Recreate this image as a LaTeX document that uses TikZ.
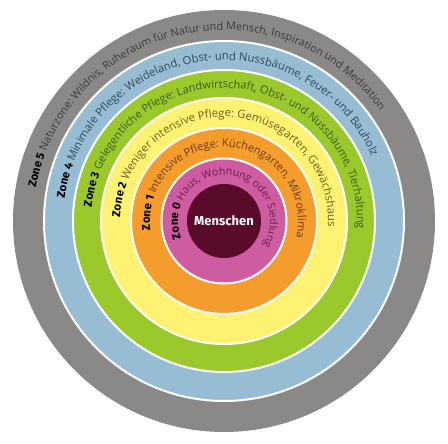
\documentclass[tikz,border=0pt]{standalone}
\usepackage{fontspec}
\setmainfont{Open Sans}
\setsansfont{Fira Sans}
\usepackage{tikz}
\usetikzlibrary{decorations.text}
\usepackage{xcolor}

\definecolor{ringfive}{HTML}{8A8987}
\definecolor{ringfour}{HTML}{96BDD3}
\definecolor{ringthree}{HTML}{9BC92C}
\definecolor{ringtwo}{HTML}{FEF272}
\definecolor{ringone}{HTML}{F49C2C}
\definecolor{ringzero}{HTML}{CD5CA0}
\definecolor{core}{HTML}{5A0A2A}
\definecolor{txtfive}{HTML}{3C3B3A}
\definecolor{txtfour}{HTML}{2E4B5E}
\definecolor{txtthree}{HTML}{3E5A10}
\definecolor{txttwo}{HTML}{6F5F20}
\definecolor{txtone}{HTML}{6B3A0E}
\definecolor{txtzero}{HTML}{6A1E50}

\newcommand\zonefont{\sffamily\bfseries\fontsize{11.5}{13}\selectfont\color{black}}
\newcommand\ringfont[1]{\rmfamily\fontsize{#1}{13}\selectfont}

\begin{document}
\begin{tikzpicture}[x=1pt, y=1pt]
        % Define block styles
        \tikzstyle{ring} = [circle, draw=white, line width=2pt, inner sep=0pt, outer sep=0pt]
        \tikzstyle{ringtext} = [decorate, decoration={text along path, text align=left}]

        \useasboundingbox (-224,-223) rectangle (224,221);

        % Define rings
        \node [ring, draw=none, fill=ringfive, minimum size=422pt] (Z5) at (0,0) {};
        \node [ring, fill=ringfour, minimum size=360pt] (Z4) at (Z5.center) {};
        \node [ring, fill=ringthree, minimum size=302pt] (Z3) at (Z5.center) {};
        \node [ring, fill=ringtwo, minimum size=246pt] (Z2) at (Z5.center) {};
        \node [ring, fill=ringone, minimum size=186pt] (Z1) at (Z5.center) {};
        \node [ring, fill=ringzero, minimum size=125pt] (Z0) at (Z5.center) {};
        \node [ring, draw=none, fill=core, minimum size=74pt, text=white, font=\sffamily\bfseries\fontsize{13}{15}\selectfont] (M) at (Z5.center) {Menschen};

        % Text along the rings
        \path [ringtext, decoration={text={|\zonefont|Zone 5 |\ringfont{10.9}\color{txtfive}|Naturzone: Wildnis, Ruheraum für Natur und Mensch, Inspiration und Meditation}}]
            ([shift={(170:191)}]Z5.center) arc [start angle=170, end angle=-20, radius=191];
        \path [ringtext, decoration={text={|\zonefont|Zone 4 |\ringfont{11.3}\color{txtfour}|Minimale Pflege: Weideland, Obst- und Nussbäume, Feuer- und Bauholz}}]
            ([shift={(172:161)}]Z4.center) arc [start angle=172, end angle=-30, radius=161];
        \path [ringtext, decoration={text={|\zonefont|Zone 3 |\ringfont{11.1}\color{txtthree}|Gelegentliche Pflege: Landwirtschaft, Obst- und Nussbäume, Tierhaltung}}]
            ([shift={(174:133)}]Z3.center) arc [start angle=174, end angle=-40, radius=133];
        \path [ringtext, decoration={text={|\zonefont|Zone 2 |\ringfont{11.3}\color{txttwo}|Weniger intensive Pflege: Gemüsegarten, Gewächshaus}}]
            ([shift={(178:104)}]Z2.center) arc [start angle=178, end angle=-50, radius=104];
        \path [ringtext, decoration={text={|\zonefont|Zone 1 |\ringfont{11}\color{txtone}|Intensive Pflege: Küchengarten, Mikroklima}}]
            ([shift={(187:74)}]Z1.center) arc [start angle=187, end angle=-60, radius=74];
        \path [ringtext, decoration={text={|\zonefont|Zone 0 |\ringfont{10.6}\color{txtzero}|Haus, Wohnung oder Siedlung}}]
            ([shift={(202:46)}]Z0.center) arc [start angle=202, end angle=-90, radius=46];

    \end{tikzpicture}
\end{document}
